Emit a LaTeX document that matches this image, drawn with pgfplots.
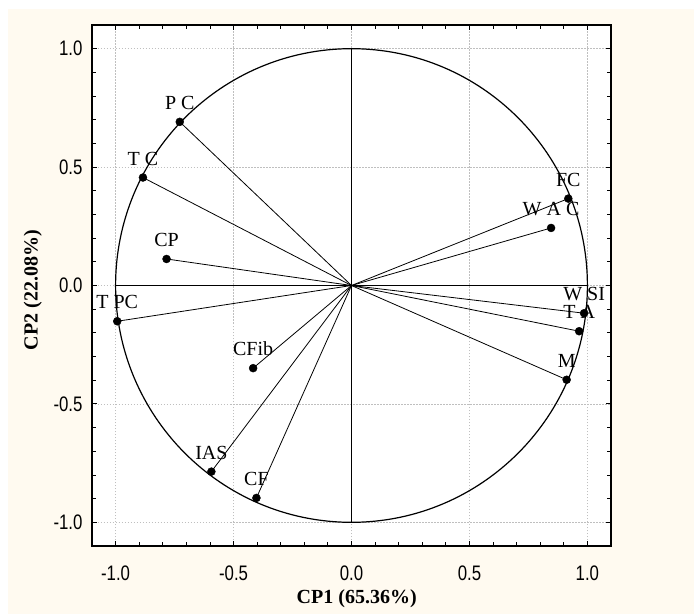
\documentclass[border=0pt]{standalone}
\usepackage{pgfplots}
\pgfplotsset{compat=1.18}
\usepackage{pgfplotstable}
\usepackage{fontspec}
\setmainfont{Liberation Serif}
\newfontfamily\tickfont[FakeStretch=0.8]{Liberation Sans}
\definecolor{bgcream}{RGB}{255,250,240}

\pgfplotstableread[col sep=comma]{
x,y,label
-0.728,0.691,P C
-0.884,0.456,T C
-0.784,0.112,CP
-0.993,-0.151,T PC
-0.417,-0.349,CFib
-0.594,-0.786,IAS
-0.403,-0.897,CF
0.919,0.367,FC
0.846,0.243,W A C
0.986,-0.117,W SI
0.965,-0.193,T A
0.912,-0.398,M
}\loadings

\begin{document}
\begin{tikzpicture}
\path[use as bounding box] (-92pt,-68pt) rectangle (602pt,546pt);
\fill[bgcream] (-84pt,-68pt) rectangle (602pt,537pt);
\begin{axis}[
  at={(0pt,0pt)}, anchor=south west,
  scale only axis, width=519pt, height=521pt,
  xmin=-1.1, xmax=1.1, ymin=-1.1, ymax=1.1,
  axis background/.style={fill=white},
  xtick={-1,-0.5,0,0.5,1}, ytick={-1,-0.5,0,0.5,1},
  minor tick num=4,
  xtick pos=both, ytick pos=both, tick align=inside,
  major tick length=5pt, minor tick length=4pt,
  tick style={black, line width=0.9pt},
  grid=major,
  major grid style={gray!50, dash pattern=on 1.5pt off 1.5pt, line width=0.7pt},
  axis line style={black, line width=1.3pt},
  /pgf/number format/fixed, /pgf/number format/fixed zerofill,
  /pgf/number format/precision=1, /pgf/number format/assume math mode=true,
  tick label style={font=\tickfont\fontsize{21}{21}\selectfont},
  xticklabel style={yshift=-16pt},
  yticklabel style={xshift=-6pt},
  xlabel={CP1 (65.36\%)},
  xlabel style={at={(axis description cs:0.51,-0.102)}, anchor=center, font=\bfseries\fontsize{20}{20}\selectfont},
  ylabel={CP2 (22.08\%)},
  ylabel style={at={(axis description cs:-0.114,0.491)}, anchor=center, font=\bfseries\fontsize{20}{20}\selectfont},
]
\draw[line width=1.2pt] (axis cs:0,0) ellipse [x radius=1, y radius=1];
\draw[line width=1.2pt] (axis cs:-1,0) -- (axis cs:1,0);
\draw[line width=1.2pt] (axis cs:0,-1) -- (axis cs:0,1);
\addplot[black, line width=0.8pt, quiver={u=\thisrow{x}, v=\thisrow{y}}] table[x expr=0, y expr=0] {\loadings};
\addplot[only marks, mark=*, mark size=4pt, black,
  nodes near coords, point meta=explicit symbolic,
  nodes near coords style={anchor=center, yshift=19pt, font=\fontsize{20}{20}\selectfont, text=black}]
  table[x=x, y=y, meta=label] {\loadings};
\end{axis}
\end{tikzpicture}
\end{document}
